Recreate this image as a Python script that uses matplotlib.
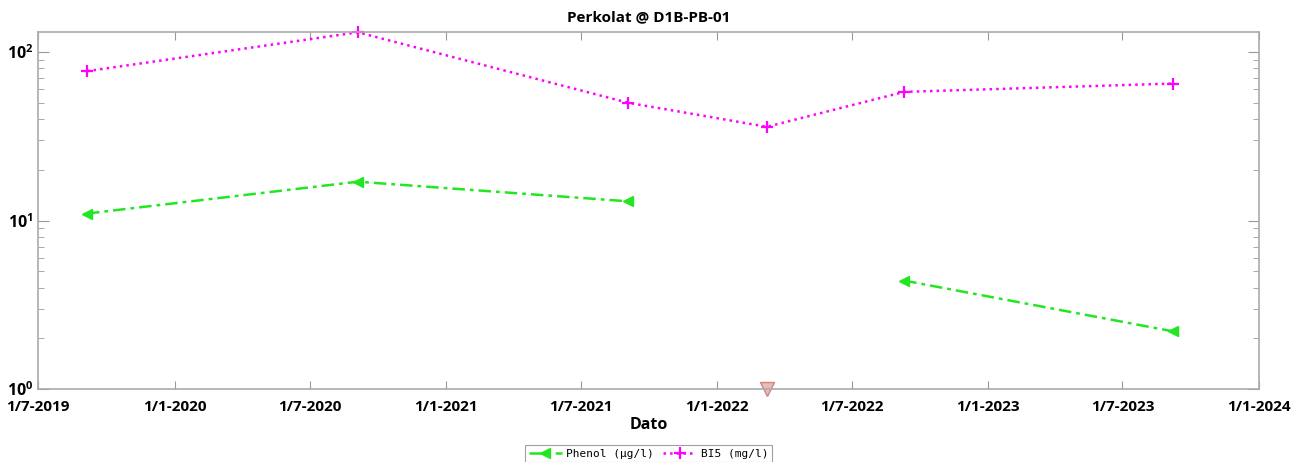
import matplotlib
matplotlib.use("Agg")
import matplotlib.pyplot as plt
import matplotlib.dates as mdates
from matplotlib.ticker import LogLocator, NullFormatter
import numpy as np
import pandas as pd

title = "Perkolat @ D1B-PB-01"
xlabel = "Dato"

bi5_dates = ["2019-09-05", "2020-09-04", "2021-09-03", "2022-03-09", "2022-09-10", "2023-09-07"]
bi5_values = [77, 131, 50, 36, 58, 65]

phenol_dates = ["2019-09-05", "2020-09-04", "2021-09-03", "2022-03-09", "2022-09-10", "2023-09-07"]
phenol_values = [11, 17, 13, np.nan, 4.4, 2.2]

below_dates = ["2022-03-09"]
below_values = [1.0]

xtick_dates = ["2019-07-01", "2020-01-01", "2020-07-01", "2021-01-01", "2021-07-01",
               "2022-01-01", "2022-07-01", "2023-01-01", "2023-07-01", "2024-01-01"]
xtick_labels = ["1/7-2019", "1/1-2020", "1/7-2020", "1/1-2021", "1/7-2021",
                "1/1-2022", "1/7-2022", "1/1-2023", "1/7-2023", "1/1-2024"]

plt.rcParams['font.family'] = ['Open Sans', 'DejaVu Sans']

fig = plt.figure(figsize=(13.05, 4.62), dpi=100)
ax = fig.add_axes([38/1305, 1 - 389/462, (1259-38)/1305, (389-32)/462])

ax.plot(pd.to_datetime(phenol_dates), phenol_values, color="#22e622", linestyle=(0, (5, 2, 1.5, 2)),
        marker="<", markersize=7, linewidth=1.8, label="Phenol (\u00b5g/l)", clip_on=False)
ax.plot(pd.to_datetime(bi5_dates), bi5_values, color="#ff00ff", linestyle=":",
        marker="+", markersize=8, markeredgewidth=1.6, linewidth=1.8, label="BI5 (mg/l)", clip_on=False)
ax.plot(pd.to_datetime(below_dates), below_values, linestyle="none", marker="v", markersize=10,
        markerfacecolor="#e6bcbc", markeredgecolor="#d98080", markeredgewidth=1.0, clip_on=False)

ax.set_yscale("log")
ax.set_ylim(1, 131.5)
ax.set_xlim(pd.Timestamp("2019-07-01"), pd.Timestamp("2024-01-01"))
ax.set_xticks(pd.to_datetime(xtick_dates))
ax.set_xticklabels(xtick_labels, fontweight="bold", fontsize=11)
ax.yaxis.set_major_locator(LogLocator(base=10, numticks=10))
ax.yaxis.set_minor_locator(LogLocator(base=10, subs=np.arange(2, 10), numticks=20))
ax.yaxis.set_minor_formatter(NullFormatter())
for lab in ax.get_yticklabels():
    lab.set_fontweight("bold")
ax.tick_params(axis="y", which="major", labelsize=11.5, direction="in", length=8, right=True, color="#999999")
ax.tick_params(axis="y", which="minor", direction="in", length=4, right=True, color="#999999")
ax.tick_params(axis="x", which="major", direction="in", length=6, top=True, color="#999999", pad=8)
for s in ax.spines.values():
    s.set_color("#aaaaaa")
    s.set_linewidth(1.2)

ax.set_title(title, fontweight="bold", fontsize=11, pad=8)
ax.set_xlabel(xlabel, fontweight="bold", fontsize=11.5, labelpad=2)

leg = ax.legend(loc="upper center", bbox_to_anchor=(0.5, -0.142), ncol=2, fancybox=False,
                prop={"family": "DejaVu Sans Mono", "size": 8}, handlelength=3, columnspacing=0.8,
                handletextpad=0.4, borderpad=0.3, edgecolor="#888888")
leg.get_frame().set_linewidth(0.8)

fig.savefig("out.png", dpi=100)
